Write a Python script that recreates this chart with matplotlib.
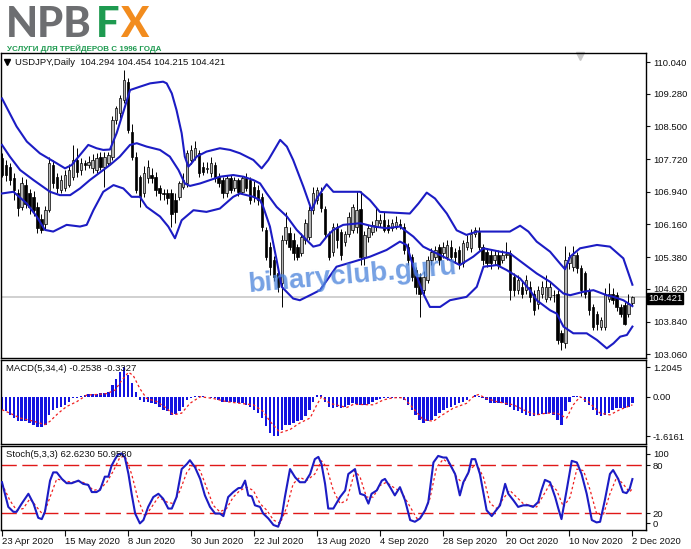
import numpy as np
import matplotlib
matplotlib.use("Agg")
import matplotlib.pyplot as plt
import matplotlib.transforms as mtransforms

# ===========================
# 1. DATA
# ===========================
plt.rcParams["font.family"] = ["Liberation Sans", "DejaVu Sans"]

date_labels = ["23 Apr 2020", "15 May 2020", "8 Jun 2020", "30 Jun 2020", "22 Jul 2020",
               "13 Aug 2020", "4 Sep 2020", "28 Sep 2020", "20 Oct 2020", "10 Nov 2020",
               "2 Dec 2020"]
date_pos = [0, 16, 32, 48, 64, 80, 96, 112, 128, 144, 160]

# daily candles USDJPY, bar 0 = 23 Apr 2020 ... bar 160 = 2 Dec 2020
opens = [107.74, 107.58, 107.54, 107.26, 106.90, 106.58, 107.10, 106.90, 106.82, 106.58,
         106.30, 106.18, 106.50, 107.58, 107.30, 106.98, 107.02, 107.10, 107.30, 107.70,
         107.46, 107.62, 107.58, 107.50, 107.46, 107.78, 107.54, 107.62, 107.78, 108.65,
         108.81, 109.13, 109.57, 108.38, 107.78, 107.30, 106.90, 107.26, 107.33, 107.30,
         107.02, 106.92, 106.90, 106.90, 106.74, 106.82, 107.06, 107.14, 107.70, 107.78,
         107.86, 107.54, 107.48, 107.38, 107.58, 107.30, 107.22, 106.90, 107.26, 107.02,
         107.22, 106.94, 107.26, 107.22, 107.06, 106.98, 106.82, 106.02, 105.63, 105.31,
         104.99, 104.75, 105.79, 105.95, 105.79, 105.63, 105.47, 105.79, 105.87, 106.50,
         106.74, 106.90, 106.54, 105.94, 105.51, 106.11, 105.98, 105.75, 105.94, 106.03,
         106.11, 106.54, 105.39, 105.87, 105.98, 106.11, 106.19, 106.26, 106.14, 106.07,
         106.11, 106.16, 106.11, 105.63, 105.39, 105.07, 104.91, 104.59, 104.83, 105.31,
         105.39, 105.63, 105.47, 105.39, 105.63, 105.51, 105.55, 105.23, 105.63, 105.59,
         105.94, 105.98, 105.63, 105.51, 105.43, 105.31, 105.43, 105.31, 105.43, 105.47,
         104.91, 104.59, 104.67, 104.59, 104.67, 104.51, 104.27, 104.51, 104.39, 104.43,
         104.48, 104.51, 103.56, 103.32, 105.23, 105.15, 105.43, 105.11, 104.99, 104.59,
         104.19, 104.03, 103.72, 103.72, 104.39, 104.51, 104.47, 104.19, 104.23, 104.03,
         104.294]
highs = [107.86, 107.70, 107.62, 107.40, 107.00, 107.30, 107.25, 107.00, 106.95, 106.70,
         106.40, 106.60, 107.78, 107.70, 107.40, 107.35, 107.45, 107.60, 108.05, 107.98,
         107.75, 107.70, 107.80, 107.85, 107.86, 107.90, 107.88, 107.90, 108.75, 109.00,
         109.25, 109.85, 109.65, 108.55, 107.90, 107.35, 107.55, 107.70, 107.50, 107.42,
         107.10, 107.00, 107.00, 107.00, 106.90, 107.20, 107.40, 107.95, 108.05, 108.16,
         107.95, 107.65, 107.65, 107.78, 107.66, 107.40, 107.30, 107.35, 107.35, 107.30,
         107.28, 107.32, 107.40, 107.30, 107.20, 107.10, 106.90, 106.10, 105.75, 105.40,
         105.10, 105.90, 106.45, 106.10, 105.95, 105.70, 105.95, 106.30, 106.60, 107.05,
         107.05, 107.05, 106.60, 106.00, 106.20, 106.20, 106.05, 106.00, 106.45, 106.65,
         106.95, 106.95, 106.00, 106.15, 106.25, 106.55, 106.42, 106.45, 106.30, 106.30,
         106.35, 106.30, 106.20, 105.72, 105.45, 105.15, 105.00, 105.05, 105.40, 105.60,
         105.65, 105.70, 105.75, 105.80, 105.80, 105.60, 105.65, 105.80, 105.90, 106.05,
         106.10, 106.10, 105.70, 105.60, 105.55, 105.55, 105.55, 105.55, 105.75, 105.55,
         105.00, 104.95, 104.80, 104.95, 104.80, 104.60, 104.70, 104.80, 104.95, 104.80,
         104.60, 104.60, 103.65, 105.65, 105.50, 105.65, 105.50, 105.20, 105.05, 104.65,
         104.25, 104.10, 103.95, 104.65, 104.75, 104.65, 104.55, 104.25, 104.30, 104.50,
         104.454]
lows = [107.30, 107.20, 107.10, 106.74, 106.35, 106.50, 106.55, 106.40, 106.35, 105.95,
        105.95, 106.05, 106.45, 107.02, 106.90, 106.92, 106.95, 107.05, 107.22, 107.30,
        107.35, 107.45, 107.50, 107.40, 107.38, 107.45, 107.06, 107.55, 107.70, 108.55,
        108.70, 109.05, 108.35, 107.70, 106.90, 106.58, 106.82, 107.15, 107.15, 106.85,
        106.75, 106.75, 106.65, 106.10, 106.20, 106.75, 107.00, 107.05, 107.60, 107.70,
        107.30, 107.35, 107.40, 107.30, 107.18, 107.05, 106.80, 106.82, 106.90, 106.95,
        106.85, 106.88, 106.95, 106.65, 106.70, 106.62, 106.00, 105.30, 104.95, 104.80,
        104.55, 104.19, 105.70, 105.55, 105.30, 105.30, 105.40, 105.70, 105.80, 106.40,
        106.65, 106.45, 105.85, 105.30, 105.40, 105.60, 105.30, 105.65, 105.85, 105.95,
        105.95, 105.20, 105.20, 105.75, 105.90, 106.00, 106.10, 105.98, 105.95, 106.00,
        106.05, 106.05, 105.45, 105.20, 104.80, 104.50, 103.95, 104.50, 104.75, 105.20,
        105.30, 105.20, 105.35, 105.30, 105.30, 105.25, 105.10, 105.15, 105.55, 105.50,
        105.85, 105.55, 105.20, 105.15, 105.10, 105.20, 105.10, 105.25, 105.35, 104.35,
        104.45, 104.50, 104.40, 104.50, 104.30, 104.00, 104.15, 104.40, 104.30, 104.35,
        104.30, 103.30, 103.16, 103.20, 105.10, 105.05, 105.00, 104.45, 104.40, 104.00,
        103.65, 103.65, 103.65, 103.65, 104.30, 104.25, 104.10, 103.95, 103.75, 103.95,
        104.215]
closes = [107.34, 107.34, 107.22, 106.98, 106.55, 107.14, 106.66, 106.58, 106.50, 106.07,
          106.02, 106.50, 107.62, 107.14, 107.02, 107.22, 107.34, 107.46, 107.70, 107.42,
          107.62, 107.58, 107.66, 107.70, 107.74, 107.54, 107.78, 107.82, 108.65, 108.93,
          109.17, 109.61, 108.42, 107.78, 106.98, 106.82, 107.38, 107.54, 107.28, 106.98,
          106.90, 106.88, 106.80, 106.42, 106.46, 107.14, 107.22, 107.86, 107.94, 107.98,
          107.38, 107.42, 107.52, 107.62, 107.26, 107.14, 106.90, 107.26, 106.98, 107.22,
          106.94, 107.26, 107.02, 106.74, 106.82, 106.74, 106.11, 105.39, 105.15, 104.91,
          104.67, 105.79, 106.11, 105.63, 105.47, 105.39, 105.87, 106.19, 106.50, 106.90,
          106.98, 106.55, 105.94, 105.39, 106.11, 105.79, 105.42, 105.94, 106.34, 106.58,
          106.50, 105.39, 105.91, 106.07, 106.14, 106.26, 106.26, 106.03, 106.03, 106.19,
          106.23, 106.12, 105.55, 105.31, 104.91, 104.67, 104.51, 104.91, 105.31, 105.51,
          105.55, 105.31, 105.63, 105.67, 105.39, 105.39, 105.23, 105.71, 105.75, 105.94,
          106.03, 105.63, 105.31, 105.23, 105.23, 105.43, 105.19, 105.43, 105.45, 104.59,
          104.59, 104.83, 104.51, 104.83, 104.43, 104.11, 104.59, 104.67, 104.67, 104.67,
          104.47, 103.40, 103.36, 105.31, 105.39, 105.43, 105.11, 104.59, 104.51, 104.11,
          103.72, 103.79, 103.88, 104.51, 104.51, 104.35, 104.19, 104.03, 103.79, 104.27,
          104.421]

# Bollinger bands, (bar, price) points
bb_upper_x = [0, 3.7, 6.3, 9.6, 13.9, 16.0, 17.7, 19.8, 21.9, 24.0, 25.7, 27.4, 29.1, 31.2,
              32.5, 35.0, 37.6, 40.9, 41.8, 43.1, 44.3, 45.6, 46.4, 47.3, 48.1, 49.4, 51.9,
              55.3, 57.9, 60.4, 63.8, 65.9, 67.6, 70.6, 72.3, 73.9, 76.5, 78.6, 80.0, 82.4,
              84.1, 90.9, 93.4, 95.9, 103.5, 105.7, 107.8, 109.9, 112.9, 115.4, 117.9, 120.5,
              128.9, 131.5, 133.6, 135.7, 139.1, 141.6, 142.9, 144.2, 146.7, 151.0, 154.3,
              157.7, 160]
bb_upper = [109.17, 108.50, 108.14, 107.86, 107.62, 107.50, 107.58, 107.82, 108.06, 107.98,
            107.94, 107.95, 108.34, 108.97, 109.37, 109.45, 109.53, 109.57, 109.53, 109.29,
            108.89, 108.34, 107.78, 107.54, 107.62, 107.78, 107.90, 107.98, 107.94, 107.86,
            107.70, 107.50, 107.70, 108.18, 108.02, 107.70, 107.06, 106.50, 106.80, 107.12,
            106.94, 106.94, 106.74, 106.46, 106.42, 106.66, 106.92, 106.78, 106.42, 106.02,
            105.91, 105.99, 105.99, 106.13, 105.99, 105.75, 105.51, 105.23, 105.09, 105.39,
            105.59, 105.67, 105.63, 105.35, 104.72]
bb_mid_x = [0, 2.0, 4.6, 8.0, 12.2, 14.7, 17.3, 19.8, 22.3, 25.7, 27.4, 29.9, 32.5, 34.2,
            36.7, 40.1, 42.6, 44.8, 46.4, 47.7, 50.3, 52.8, 55.3, 58.7, 61.3, 63.8, 65.5,
            67.2, 69.7, 72.3, 74.8, 77.3, 79.0, 80.7, 82.4, 84.1, 86.6, 90.9, 94.3, 97.6,
            101.0, 104.4, 106.9, 110.3, 113.7, 116.2, 119.6, 122.2, 126.4, 128.9, 132.3,
            135.7, 139.1, 142.5, 144.2, 147.5, 150.1, 153.5, 155.2, 157.7, 160]
bb_mid = [108.06, 107.78, 107.46, 107.22, 106.94, 106.86, 106.86, 107.02, 107.22, 107.46,
          107.58, 107.78, 108.06, 108.10, 108.02, 107.94, 107.78, 107.46, 107.14, 107.08,
          107.14, 107.22, 107.30, 107.34, 107.30, 107.22, 107.14, 106.90, 106.58, 106.35,
          106.03, 105.79, 105.63, 105.67, 105.87, 106.03, 106.15, 106.19, 106.11, 106.07,
          106.11, 105.87, 105.63, 105.47, 105.31, 105.19, 105.39, 105.59, 105.51, 105.47,
          105.23, 104.99, 104.79, 104.51, 104.47, 104.55, 104.59, 104.47, 104.43, 104.35,
          104.21]
bb_lower_x = [0, 2.9, 6.3, 8.8, 10.9, 13.0, 16.4, 19.8, 21.5, 23.2, 25.7, 28.3, 30.8, 32.9,
              35.0, 36.7, 40.1, 42.2, 43.9, 45.6, 48.6, 51.9, 55.3, 58.7, 60.4, 63.8, 65.5,
              66.3, 68.0, 69.7, 71.0, 73.9, 75.6, 78.2, 80.7, 84.9, 89.2, 93.4, 97.6, 101.0,
              102.7, 104.4, 106.9, 108.6, 111.2, 113.7, 117.9, 120.5, 122.2, 125.6, 128.1,
              131.5, 134.0, 135.7, 139.1, 140.8, 142.5, 145.0, 148.4, 151.0, 153.5, 155.2,
              156.9, 158.6, 160]
bb_lower = [106.90, 106.94, 106.66, 106.35, 106.03, 105.99, 106.15, 106.11, 106.15, 106.50,
            106.94, 107.10, 107.02, 106.82, 106.82, 106.58, 106.35, 106.11, 105.83, 106.26,
            106.50, 106.46, 106.54, 106.82, 106.90, 106.82, 106.74, 106.58, 106.11, 105.31,
            104.67, 104.39, 104.35, 104.47, 104.59, 105.15, 105.27, 105.39, 105.55, 105.75,
            105.67, 105.15, 104.51, 104.19, 104.19, 104.35, 104.43, 104.67, 105.15, 105.19,
            105.07, 104.87, 104.59, 104.35, 104.11, 104.03, 103.72, 103.56, 103.56, 103.40,
            103.20, 103.32, 103.48, 103.52, 103.72]

# MACD(5,34,4) histogram, one value per bar
macd_main = [-0.53, -0.60, -0.74, -0.87, -1.00, -1.00, -1.00, -1.07, -1.14, -1.24,
             -1.24, -1.14, -0.74, -0.53, -0.47, -0.40, -0.33, -0.20, -0.07, -0.04,
             0.01, 0.09, 0.12, 0.13, 0.13, 0.15, 0.17, 0.20, 0.47, 0.74,
             1.00, 1.2045, 0.90, 0.55, 0.20, -0.13, -0.20, -0.20, -0.27, -0.31,
             -0.40, -0.53, -0.60, -0.76, -0.71, -0.60, -0.40, -0.13, -0.04, 0.04,
             0.03, 0.01, -0.03, -0.04, -0.07, -0.13, -0.20, -0.20, -0.23, -0.23,
             -0.27, -0.27, -0.33, -0.40, -0.53, -0.67, -0.87, -1.20, -1.47, -1.60,
             -1.6161, -1.34, -1.14, -1.14, -1.07, -1.00, -0.94, -0.80, -0.53, -0.20,
             0.07, 0.07, -0.20, -0.40, -0.45, -0.40, -0.44, -0.42, -0.33, -0.27,
             -0.30, -0.33, -0.33, -0.28, -0.22, -0.12, -0.08, -0.07, -0.05, -0.04,
             -0.04, -0.04, -0.13, -0.33, -0.53, -0.74, -0.94, -1.07, -1.00, -0.94,
             -0.80, -0.67, -0.53, -0.47, -0.40, -0.33, -0.27, -0.20, -0.13, -0.02,
             0.09, 0.02, -0.07, -0.13, -0.27, -0.27, -0.27, -0.27, -0.33, -0.40,
             -0.53, -0.60, -0.67, -0.74, -0.78, -0.78, -0.74, -0.71, -0.71, -0.67,
             -0.74, -0.94, -1.14, -0.60, -0.20, 0.02, 0.04, -0.07, -0.20, -0.33,
             -0.53, -0.74, -0.80, -0.76, -0.67, -0.53, -0.47, -0.47, -0.44, -0.40,
             -0.2538]
macd_sig_x = [0, 2.0, 4.6, 8.0, 10.9, 12.2, 14.3, 16.4, 19.0, 21.5, 24.0, 26.6, 28.7, 30.4,
              32.1, 33.3, 35.0, 36.7, 39.3, 41.8, 43.5, 45.6, 47.7, 50.3, 53.6, 57.0, 60.4,
              63.8, 66.3, 68.0, 70.6, 73.1, 75.6, 78.2, 79.9, 81.1, 83.2, 87.5, 89.2, 94.3,
              96.8, 99.3, 101.9, 104.4, 106.9, 109.5, 111.2, 114.5, 117.9, 119.6, 120.9,
              123.0, 125.5, 129.8, 133.2, 135.7, 138.2, 140.8, 143.3, 145.0, 146.7, 148.8,
              151.8, 154.3, 156.8, 160]
macd_sig = [-0.53, -0.67, -0.87, -1.00, -1.14, -1.00, -0.67, -0.40, -0.20, 0.07, 0.09, 0.13,
            0.27, 0.67, 1.00, 0.87, 0.33, -0.07, -0.20, -0.47, -0.74, -0.67, -0.27, 0.00,
            -0.07, -0.20, -0.27, -0.33, -0.60, -1.00, -1.47, -1.34, -1.07, -0.87, -0.33,
            0.00, -0.27, -0.44, -0.31, -0.33, -0.13, -0.04, -0.04, -0.47, -0.94, -1.00,
            -0.80, -0.47, -0.27, 0.00, 0.09, -0.07, -0.20, -0.33, -0.60, -0.74, -0.67,
            -0.67, -0.87, -0.33, 0.00, -0.20, -0.67, -0.74, -0.53, -0.3327]

# Stochastic(5,3,3)
stoch_k_x = [0, 1.6, 2.9, 3.7, 5.0, 6.7, 8.0, 9.2, 10.1, 10.9, 12.2, 13.0, 13.9, 15.2, 16.4,
             17.7, 19.4, 20.6, 21.9, 22.8, 24.0, 24.9, 26.1, 27.0, 27.8, 28.7, 29.5, 30.4,
             31.2, 32.1, 32.9, 33.8, 35.0, 35.9, 37.1, 38.4, 39.7, 40.9, 42.2, 43.1, 44.3,
             45.6, 46.9, 47.7, 49.0, 50.3, 51.5, 52.8, 54.1, 55.3, 56.2, 57.4, 58.7, 60.0,
             60.8, 61.7, 62.5, 63.4, 64.2, 65.5, 66.3, 67.6, 68.9, 70.1, 71.0, 71.8, 73.1,
             74.4, 75.6, 76.9, 78.2, 79.4, 80.3, 81.1, 82.0, 82.8, 84.1, 85.8, 87.1, 87.9,
             89.6, 90.9, 92.1, 93.0, 93.8, 95.1, 96.4, 97.2, 98.5, 99.7, 101.0, 102.3, 103.6,
             104.8, 106.1, 107.4, 108.2, 109.5, 110.7, 112.0, 112.8, 114.1, 115.0, 116.2,
             117.1, 118.4, 119.2, 120.1, 121.3, 123.0, 124.3, 125.1, 126.4, 127.7, 128.5,
             129.8, 131.0, 132.3, 133.6, 134.8, 136.1, 136.9, 137.8, 139.1, 140.4, 141.2,
             142.0, 143.3, 144.6, 145.9, 147.1, 148.4, 149.7, 150.9, 151.8, 153.0, 154.3,
             155.1, 156.4, 157.6, 158.5, 159.3, 160]
stoch_k = [58.7, 28.1, 22.0, 22.0, 32.2, 44.4, 32.2, 14.6, 13.0, 22.0, 60.7, 70.9, 70.9, 62.8,
           57.5, 57.5, 60.7, 56.7, 55.4, 46.5, 46.5, 49.3, 65.6, 65.6, 79.1, 87.3, 93.4, 94.2,
           89.3, 68.9, 44.4, 19.9, 7.7, 11.8, 28.1, 40.3, 44.4, 38.3, 26.1, 26.1, 40.3, 75.0,
           81.1, 86.0, 77.1, 62.8, 42.4, 28.1, 19.9, 19.9, 16.7, 40.3, 46.5, 51.4, 51.8, 60.7,
           42.4, 41.2, 30.1, 28.1, 19.9, 13.8, 5.7, 3.6, 15.9, 40.3, 75.0, 64.8, 58.7, 58.7,
           68.9, 87.3, 90.1, 81.1, 56.7, 26.1, 26.1, 40.3, 48.5, 68.9, 75.0, 44.4, 42.4, 32.2,
           44.4, 48.5, 60.7, 62.8, 52.6, 42.4, 52.6, 36.3, 11.8, 9.7, 13.8, 24.0, 34.2, 83.2,
           91.3, 89.3, 89.3, 77.1, 68.9, 42.4, 58.7, 70.9, 87.3, 87.3, 68.9, 24.0, 16.7, 22.0,
           30.1, 56.7, 44.4, 36.3, 28.1, 30.1, 30.1, 28.1, 34.2, 48.5, 61.6, 58.7, 40.3, 26.1,
           13.0, 48.5, 85.2, 83.2, 68.9, 44.4, 11.8, 8.9, 9.7, 36.3, 68.9, 73.8, 62.8, 46.5,
           45.2, 50.5, 62.623]
stoch_d_x = [0, 2.0, 3.7, 5.4, 7.1, 8.8, 10.5, 12.2, 13.9, 15.6, 17.7, 19.8, 21.5, 23.2, 24.9,
             26.6, 28.3, 29.9, 31.2, 32.9, 34.6, 36.3, 38.0, 39.7, 41.8, 43.5, 45.2, 46.9,
             48.6, 50.3, 51.9, 53.6, 55.3, 57.0, 58.7, 60.4, 62.1, 63.8, 65.5, 67.2, 68.9,
             70.6, 72.3, 73.9, 75.6, 77.3, 79.4, 81.1, 82.4, 84.1, 85.8, 87.5, 89.6, 90.9,
             92.5, 94.2, 95.9, 97.6, 99.3, 101.4, 103.6, 105.3, 106.9, 108.6, 110.3, 112.0,
             113.7, 115.4, 117.1, 118.8, 120.5, 122.2, 123.9, 125.6, 127.2, 128.9, 130.6,
             132.3, 134.0, 135.7, 137.4, 139.1, 140.8, 142.5, 144.2, 145.9, 147.6, 149.3,
             150.9, 152.6, 154.3, 156.0, 157.6, 159.3, 160]
stoch_d = [56.7, 36.3, 24.0, 26.1, 38.3, 28.1, 17.9, 40.3, 62.8, 60.7, 58.7, 59.9, 56.7, 48.5,
           50.5, 58.7, 73.0, 89.3, 91.3, 68.9, 36.3, 15.9, 28.1, 40.3, 34.2, 32.2, 48.5, 70.9,
           81.1, 73.0, 52.6, 30.1, 22.0, 26.1, 40.3, 48.5, 52.6, 48.5, 32.2, 24.0, 11.8, 7.7,
           28.1, 56.7, 64.8, 60.7, 68.9, 85.2, 77.1, 48.5, 32.2, 36.3, 73.0, 64.8, 40.3, 40.3,
           54.6, 58.7, 52.6, 46.5, 28.1, 13.8, 17.9, 38.3, 77.1, 87.3, 81.1, 64.8, 56.7, 75.0,
           81.1, 64.8, 32.2, 26.1, 38.3, 48.5, 40.3, 32.2, 30.1, 28.1, 42.4, 56.7, 48.5, 28.1,
           40.3, 75.0, 73.0, 48.5, 19.9, 17.9, 44.4, 64.8, 56.7, 46.5, 50.958]

# ===========================
# 2. FIGURE LAYOUT (pixel boxes)
# ===========================
W, H = 691, 549
fig = plt.figure(figsize=(W / 100, H / 100), dpi=100)


def box(top, bottom, left=1, right=646):
    return [left / W, 1 - bottom / H, (right - left) / W, (bottom - top) / H]


def fpx(x, y):
    return x / W, 1 - y / H


ax_main = fig.add_axes(box(53, 358))
ax_macd = fig.add_axes(box(360, 444))
ax_stoch = fig.add_axes(box(446, 530))

BLUE = "#1c1cc4"
RED = "#f02020"
TXT = "#101010"
FS = 6.8

for ax in (ax_main, ax_macd, ax_stoch):
    ax.set_xlim(-0.25, 163.45)
    for s in ax.spines.values():
        s.set_color("black")
        s.set_linewidth(1.0)
    ax.yaxis.tick_right()
    ax.tick_params(axis="y", direction="out", length=3, width=0.8, pad=2,
                   labelsize=FS, colors=TXT)
    ax.tick_params(axis="x", bottom=False, labelbottom=False)

# ===========================
# 3. MAIN PRICE CHART
# ===========================
idx = np.arange(len(closes))
o = np.array(opens)
h = np.array(highs)
l = np.array(lows)
c = np.array(closes)
up = c >= o
body_lo = np.minimum(o, c)
body_h = np.maximum(np.abs(c - o), 0.012)

ax_main.set_ylim(102.97, 110.255)
ax_main.axhline(closes[-1], color="#c8c8c8", lw=1.2, zorder=1)
ax_main.vlines(idx, l, h, color="black", lw=0.7, zorder=2)
ax_main.bar(idx[up], body_h[up], bottom=body_lo[up], width=0.62, color="#b4b4b4",
            edgecolor="black", linewidth=0.5, zorder=3)
ax_main.bar(idx[~up], body_h[~up], bottom=body_lo[~up], width=0.62, color="black",
            edgecolor="black", linewidth=0.5, zorder=3)
for bx, by in ((bb_upper_x, bb_upper), (bb_mid_x, bb_mid), (bb_lower_x, bb_lower)):
    ax_main.plot(bx, by, color=BLUE, lw=1.5, zorder=4)

price_ticks = [110.04, 109.28, 108.50, 107.72, 106.94, 106.16, 105.38, 104.62, 103.84, 103.06]
ax_main.set_yticks(price_ticks)
ax_main.set_yticklabels(["%.3f" % v for v in price_ticks])

trans = mtransforms.blended_transform_factory(ax_main.transAxes, ax_main.transData)
ax_main.text(1.003, closes[-1] - 0.03, "%.3f" % closes[-1], transform=trans, ha="left",
             va="center", fontsize=FS, color="white", zorder=10,
             bbox=dict(boxstyle="square,pad=0.12", fc="black", ec="black"))

ax_main.text(0.022, 0.97, "USDJPY,Daily  %.3f %.3f %.3f %.3f" % (opens[-1], highs[-1],
             lows[-1], closes[-1]), transform=ax_main.transAxes, fontsize=FS,
             color=TXT, va="center", ha="left")
ax_main.plot([0.009], [0.97], marker="v", ms=4, color="black",
             transform=ax_main.transAxes, clip_on=False)
ax_main.plot([0.898], [0.99], marker="v", ms=6, color="#c8c8c8",
             transform=ax_main.transAxes, clip_on=False)

# watermark
ax_main.text(0.545, 0.27, "binaryclub.guru", transform=ax_main.transAxes,
             fontsize=20, weight="bold", color="#4f86dc", alpha=0.78, rotation=5,
             ha="center", va="center", zorder=8)

# ===========================
# 4. MACD PANEL
# ===========================
ax_macd.set_ylim(-1.93, 1.50)
ax_macd.bar(idx, macd_main, width=0.62, color="#1414e0", zorder=2)
ax_macd.plot(macd_sig_x, macd_sig, color=RED, lw=0.9, ls=(0, (2, 2)), zorder=3)
ax_macd.set_yticks([1.2045, 0.0, -1.6161])
ax_macd.set_yticklabels(["1.2045", "0.00", "-1.6161"])
ax_macd.text(0.007, 0.9, "MACD(5,34,4) %.4f %.4f" % (macd_main[-1], macd_sig[-1]),
             transform=ax_macd.transAxes, fontsize=FS, color=TXT, va="center", zorder=5)

# ===========================
# 5. STOCHASTIC PANEL
# ===========================
ax_stoch.set_ylim(-0.5, 103.6)
for lvl in (80, 20):
    ax_stoch.axhline(lvl, color="#e01818", lw=1.0, ls=(0, (11, 4)), zorder=1)
ax_stoch.plot(stoch_d_x, stoch_d, color=RED, lw=0.9, ls=(0, (2, 2)), zorder=2)
ax_stoch.plot(stoch_k_x, stoch_k, color=BLUE, lw=1.5, zorder=3)
ax_stoch.set_yticks([93.8, 80, 20, 8.1])
ax_stoch.set_yticklabels(["100", "80", "20", "0"])
ax_stoch.text(0.007, 0.9, "Stoch(5,3,3) %.4f %.4f" % (stoch_k[-1], stoch_d[-1]),
              transform=ax_stoch.transAxes, fontsize=FS, color=TXT, va="center", zorder=5)

ax_stoch.set_xticks(date_pos)
ax_stoch.set_xticklabels(date_labels)
ax_stoch.tick_params(axis="x", bottom=True, labelbottom=True, direction="out", length=4,
                     width=0.8, pad=1, labelsize=FS, colors=TXT)
for lab in ax_stoch.get_xticklabels():
    lab.set_ha("left")

# ===========================
# 6. LOGO
# ===========================
LOGO = ["Lato", "Liberation Sans", "DejaVu Sans"]
fig.text(*fpx(6, 37), "NPB", fontsize=30, family=LOGO, weight=900, color="#6d6e71",
         ha="left", va="baseline")
fig.text(*fpx(96, 37), "F", fontsize=30, family=LOGO, weight=900, color="#1e9a50",
         ha="left", va="baseline")
fig.text(*fpx(120, 37), "X", fontsize=30, family=LOGO, weight=900, color="#f28c1e",
         ha="left", va="baseline")
fig.text(*fpx(7, 51), "УСЛУГИ ДЛЯ ТРЕЙДЕРОВ С 1996 ГОДА", fontsize=5.8,
         weight="bold", color="#1e9a50", ha="left", va="baseline")

fig.savefig("out.png", dpi=100)
